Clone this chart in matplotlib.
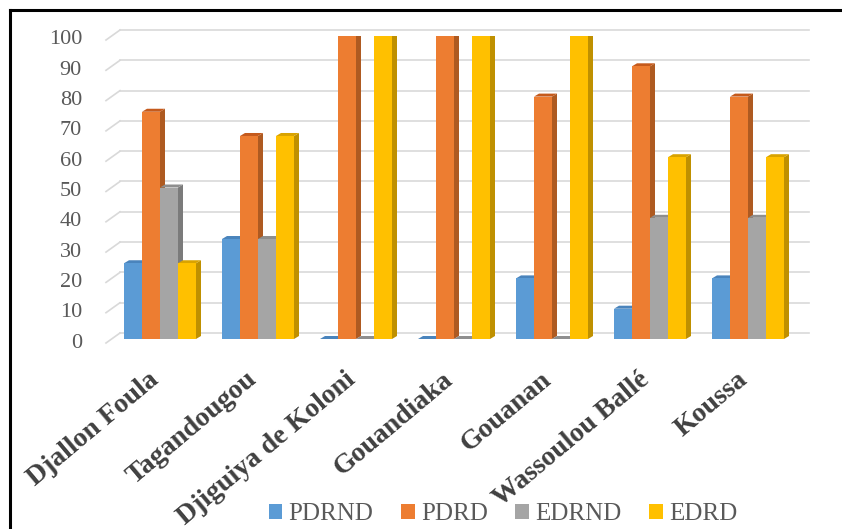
import matplotlib
matplotlib.use("Agg")
import matplotlib.pyplot as plt
from matplotlib.patches import Polygon, Rectangle
from matplotlib.lines import Line2D
import numpy as np

# ── data ────────────────────────────────────────────────────────────
sites = ["Djallon Foula", "Tagandougou", "Djiguiya de Koloni", "Gouandiaka",
         "Gouanan", "Wassoulou Ballé", "Koussa"]
series = ["PDRND", "PDRD", "EDRND", "EDRD"]
pdrnd = [25, 33, 0, 0, 20, 10, 20]
pdrd = [75, 67, 100, 100, 80, 90, 80]
edrnd = [50, 33, 0, 0, 0, 40, 40]
edrd = [25, 67, 100, 100, 100, 60, 60]
yticks = list(range(0, 101, 10))

front = ["#5B9BD5", "#ED7D31", "#A5A5A5", "#FFC000"]
side = ["#41719C", "#AE5A21", "#7B7B7B", "#BF9000"]
top = ["#4A84BC", "#C55A1C", "#8E8E8E", "#D9A300"]

plt.rcParams["font.family"] = ["Liberation Serif", "DejaVu Serif"]

W, H = 842, 529
fig = plt.figure(figsize=(W / 100, H / 100), dpi=100)

# axes placed so that bar fronts: y=0 at 339px, y=100 at 36px
ax_l, ax_r, ax_b, ax_t = 111, 797, 339, 36
ax = fig.add_axes([ax_l / W, 1 - ax_b / H, (ax_r - ax_l) / W, (ax_b - ax_t) / H])
ax.set_xlim(-0.5, len(sites) - 0.5)
ax.set_ylim(0, 100)
ax.axis("off")

# pixel -> data conversion (fixed limits)
px_x = len(sites) / (ax_r - ax_l)
px_y = 100 / (ax_b - ax_t)

# ── 3D-ish gridlines (back wall + floor diagonal) ──────────────────
x0 = -0.5
for v in yticks:
    fx, fy = x0 - 5 * px_x, v - 4 * px_y
    bx, by = x0 + 9 * px_x, v + 6 * px_y
    ax.add_line(Line2D([fx, bx], [fy, by], color="#D9D9D9", lw=1.2,
                       clip_on=False, zorder=0))
    ax.add_line(Line2D([bx, len(sites) - 0.5 + 12 * px_x], [by, by],
                       color="#D9D9D9", lw=1.2, clip_on=False, zorder=0))
    ax.text(x0 - 29 * px_x, fy, str(v), ha="right", va="center",
            fontsize=16, color="#595959")

# ── bars ───────────────────────────────────────────────────────────
bw = 18 * px_x
dx, dy = 5 * px_x, 3 * px_y
values = [pdrnd, pdrd, edrnd, edrd]
offsets = (np.arange(4) - 1.5) * bw
z = 2
for i in range(len(sites)):
    for k in range(4):
        h = values[k][i]
        xl = i + offsets[k] - bw / 2
        xr = xl + bw
        ax.add_patch(Polygon([(xr, 0), (xr + dx, dy), (xr + dx, h + dy), (xr, h)],
                             closed=True, fc=side[k], ec="none", zorder=z))
        ax.add_patch(Polygon([(xl, h), (xr, h), (xr + dx, h + dy), (xl + dx, h + dy)],
                             closed=True, fc=top[k], ec="none", zorder=z))
        ax.add_patch(Rectangle((xl, 0), bw, h, fc=front[k], ec="none", zorder=z + 1))
        z += 2

# ── category labels ────────────────────────────────────────────────
for i, name in enumerate(sites):
    ax.text(i - 12 * px_x, -28 * px_y, name, rotation=40, rotation_mode="anchor",
            ha="right", va="top", fontsize=20, fontweight="bold", color="#404040")

# ── legend ─────────────────────────────────────────────────────────
handles = [Rectangle((0, 0), 1, 1, fc=c, ec="none") for c in front]
leg = fig.legend(handles, series, loc="center", ncol=4,
                 bbox_to_anchor=(503 / W, 1 - 514 / H), frameon=False,
                 fontsize=18, handlelength=0.55, handleheight=0.55,
                 handletextpad=0.25, columnspacing=1.1)
for t in leg.get_texts():
    t.set_color("#595959")

# ── frame (top and left edges) ─────────────────────────────────────
fig.add_artist(Line2D([10 / W, 1], [1 - 10 / H, 1 - 10 / H], color="black",
                      lw=2.2, transform=fig.transFigure))
fig.add_artist(Line2D([10 / W, 10 / W], [0, 1 - 10 / H], color="black",
                      lw=2.2, transform=fig.transFigure))

fig.savefig("out.png", dpi=100, facecolor="white")
